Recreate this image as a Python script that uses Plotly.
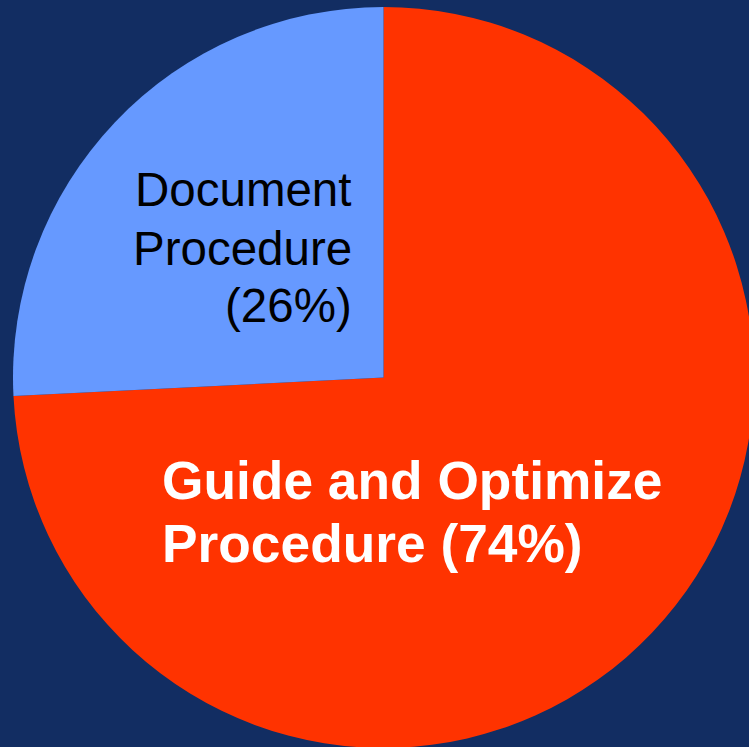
import plotly.graph_objects as go

labels = ["Guide and Optimize Procedure", "Document Procedure"]
values = [74.2, 25.8]
colors = ["#ff3300", "#6699ff"]
pct = [round(v / sum(values) * 100) for v in values]
doc_lines = ["Document", "Procedure", "(" + str(pct[1]) + "%)"]
guide_lines = ["Guide and Optimize", "Procedure (" + str(pct[0]) + "%)"]

W, H = 760, 760
ML, MT, SIDE = 13, 7, 741
MR, MB = W - ML - SIDE, H - MT - SIDE
BG = "#122d62"

fig = go.Figure(go.Pie(
    labels=labels, values=values, sort=False, direction="clockwise",
    rotation=0, marker=dict(colors=colors, line=dict(width=0)),
    textinfo="none", hoverinfo="label+percent", showlegend=False,
))

def px(x):
    return (x - ML) / SIDE

def py(y):
    return 1 - (y - MT) / SIDE

FONT = "Liberation Sans, Arial"
anns = []
for t, yc in zip(doc_lines, [189, 249, 306]):
    anns.append(dict(text=t, x=px(354), y=py(yc), xanchor="right", yanchor="middle",
                     font=dict(family=FONT, size=47.5, color="black")))
for t, yc in zip(guide_lines, [480, 543]):
    anns.append(dict(text="<b>" + t + "</b>", x=px(160), y=py(yc), xanchor="left",
                     yanchor="middle", font=dict(family=FONT, size=53.3, color="white")))
for a in anns:
    a.update(xref="paper", yref="paper", showarrow=False)

fig.update_layout(
    width=W, height=H, margin=dict(l=ML, r=MR, t=MT, b=MB),
    paper_bgcolor=BG, plot_bgcolor=BG, annotations=anns,
)
fig.write_html(
    "out.html",
    config=dict(displayModeBar=False),
    post_script="document.body.style.margin='0';document.body.style.overflow='hidden';"
                "document.body.style.background='" + BG + "';",
)
